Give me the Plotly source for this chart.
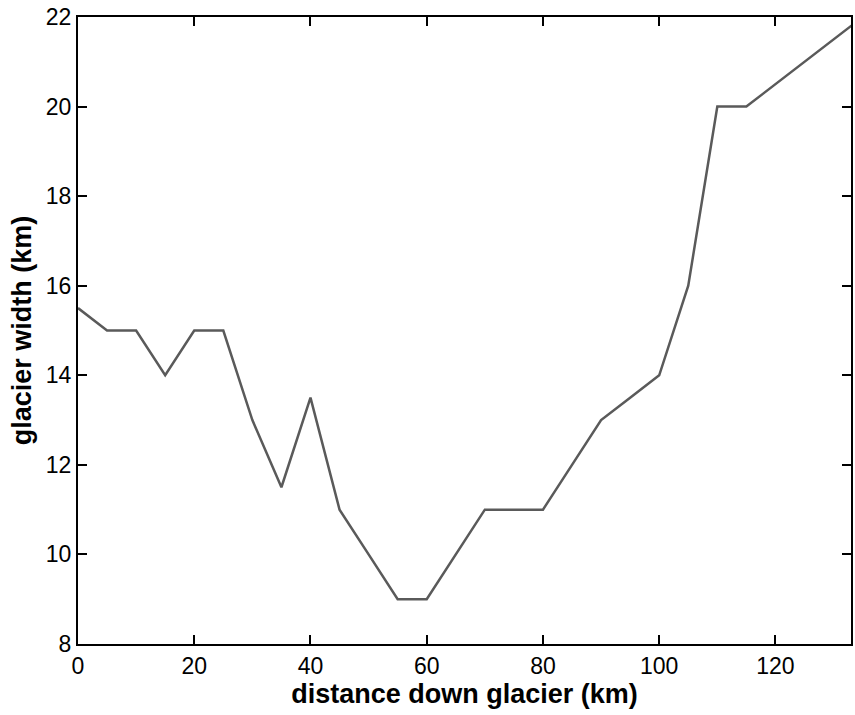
import plotly.graph_objects as go

distance_km = [0, 5, 10, 15, 20, 25, 30, 35, 40, 45, 50, 55, 60, 65, 70, 75, 80,
               85, 90, 95, 100, 105, 110, 115, 120, 125, 130, 135]
width_km = [15.5, 15, 15, 14, 15, 15, 13, 11.5, 13.5, 11, 10, 9, 9, 10, 11, 11, 11,
            12, 13, 13.5, 14, 16, 20, 20, 20.5, 21, 21.5, 22]

x_ticks = [0, 20, 40, 60, 80, 100, 120]
y_ticks = [8, 10, 12, 14, 16, 18, 20, 22]

fig = go.Figure()
fig.add_trace(go.Scatter(x=distance_km, y=width_km, mode="lines",
                         line=dict(color="#5a5a5a", width=2.5), showlegend=False))

axis_common = dict(showline=True, linecolor="black", linewidth=2, mirror="ticks",
                   ticks="inside", ticklen=9, tickwidth=2, tickcolor="black",
                   showgrid=False, zeroline=False,
                   tickfont=dict(family="Liberation Sans, Arial", size=23, color="black"))

fig.update_xaxes(range=[0, 133], tickvals=x_ticks,
                 title=dict(text="<b>distance down glacier (km)</b>", standoff=0,
                            font=dict(family="Liberation Sans, Arial", size=27, color="black")),
                 **axis_common)
fig.update_yaxes(range=[8, 22], tickvals=y_ticks,
                 title=dict(text="<b>glacier width (km)</b>", standoff=6,
                            font=dict(family="Liberation Sans, Arial", size=27, color="black")),
                 **axis_common)

fig.update_layout(width=855, height=715, plot_bgcolor="white", paper_bgcolor="white",
                  margin=dict(l=78, r=2, t=17, b=71))

fig.write_html("out.html")
